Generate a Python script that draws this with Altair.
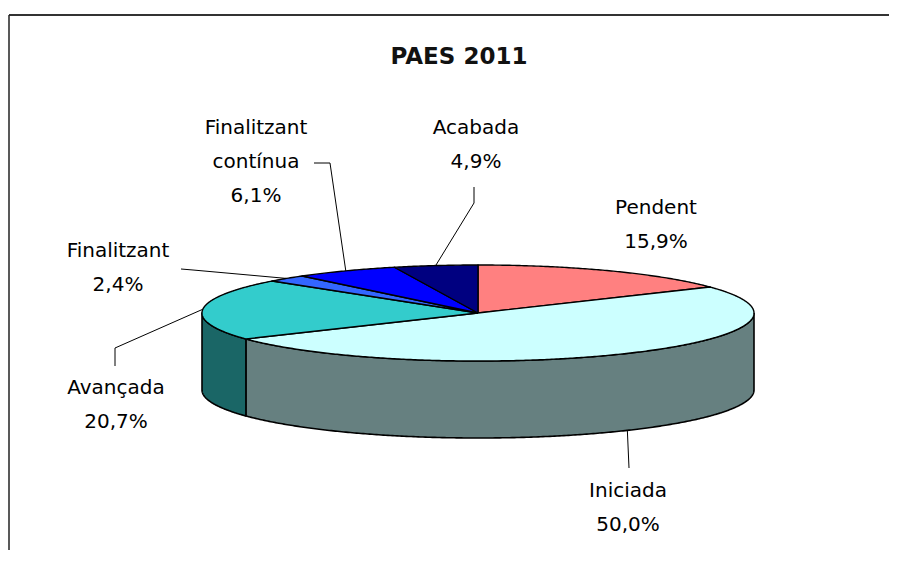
import altair as alt
import pandas as pd
import numpy as np

# ---------------- data ----------------
title_text = "PAES 2011"
categories = ["Pendent", "Iniciada", "Avançada", "Finalitzant", "Finalitzant contínua", "Acabada"]
percentages = [15.9, 50.0, 20.7, 2.4, 6.1, 4.9]
label_names = [["Pendent"], ["Iniciada"], ["Avançada"], ["Finalitzant"], ["Finalitzant", "contínua"], ["Acabada"]]
top_colors = ["#FF8080", "#CCFFFF", "#33CCCC", "#3366FF", "#0000FF", "#000080"]
side_colors = ["#804040", "#668080", "#1A6666", "#1A3380", "#000080", "#000040"]

# ---------------- layout ----------------
W, H = 881, 542
X0, Y0 = 8, 8            # page margin: data coords are page pixels
CX, CY = 478, 313        # ellipse centre
RX, RY = 276, 48         # ellipse radii
DEPTH = 77               # pie thickness
FONT = "DejaVu Sans"
LINE_H = 34
# label block position (centre x, first-line y) and leader elbow points
label_layout = {
    "Pendent": dict(pos=(656, 208), leader=None),
    "Iniciada": dict(pos=(628, 491), leader=[(629, 468)]),
    "Avançada": dict(pos=(116, 388), leader=[(115, 348), (115, 366)]),
    "Finalitzant": dict(pos=(118, 251), leader=[(193, 270), (181, 269)]),
    "Finalitzant contínua": dict(pos=(256, 128), leader=[(330, 163), (314, 163)]),
    "Acabada": dict(pos=(476, 128), leader=[(474, 203), (474, 187)]),
}


def ell(theta_deg, dy=0.0):
    t = np.radians(theta_deg)
    return CX + RX * np.sin(t), CY - RY * np.cos(t) + dy


ends = np.cumsum(percentages) / 100 * 360
starts = ends - np.array(percentages) / 100 * 360

top_rows, side_rows, leader_rows, text_rows = [], [], [], []
for i, cat in enumerate(categories):
    a0, a1 = starts[i], ends[i]
    n = max(int((a1 - a0) * 2), 2)
    pts = [(CX, CY)] + [ell(a) for a in np.linspace(a0, a1, n)] + [(CX, CY)]
    for k, (x, y) in enumerate(pts):
        top_rows.append(dict(id=cat, x=x, y=y, o=k, fill=top_colors[i]))
    s0, s1 = max(a0, 90), min(a1, 270)
    if s1 > s0:
        m = max(int((s1 - s0) * 2), 2)
        arc = np.linspace(s0, s1, m)
        spts = [ell(a) for a in arc] + [ell(a, DEPTH) for a in arc[::-1]]
        spts.append(spts[0])
        for k, (x, y) in enumerate(spts):
            side_rows.append(dict(id=cat, x=x, y=y, o=k, fill=side_colors[i]))
    # labels
    mid = (a0 + a1) / 2
    lay = label_layout[cat]
    lines = label_names[i] + [f"{percentages[i]:.1f}".replace(".", ",") + "%"]
    lx, ly = lay["pos"]
    for j, t in enumerate(lines):
        text_rows.append(dict(x=lx, y=ly + j * LINE_H, text=t))
    if lay["leader"]:
        front = 90 < mid < 270
        anchor = ell(mid, DEPTH if front else 0)
        for k, (x, y) in enumerate([anchor] + lay["leader"]):
            leader_rows.append(dict(id=cat, x=x, y=y, o=k))

xs = alt.Scale(domain=[X0, X0 + W])
ys = alt.Scale(domain=[Y0, Y0 + H], reverse=True)


def poly_layer(rows, sw):
    return alt.Chart(pd.DataFrame(rows)).mark_line(
        filled=True, stroke="black", strokeWidth=sw, strokeJoin="round"
    ).encode(
        x=alt.X("x:Q", scale=xs, axis=None),
        y=alt.Y("y:Q", scale=ys, axis=None),
        order="o:Q",
        detail="id:N",
        fill=alt.Fill("fill:N", scale=None),
    )


sides = poly_layer(side_rows, 1.6)
tops = poly_layer(top_rows, 1.4)

leaders = alt.Chart(pd.DataFrame(leader_rows)).mark_line(color="black", strokeWidth=1).encode(
    x=alt.X("x:Q", scale=xs, axis=None),
    y=alt.Y("y:Q", scale=ys, axis=None),
    order="o:Q",
    detail="id:N",
)

labels = alt.Chart(pd.DataFrame(text_rows)).mark_text(
    font=FONT, fontSize=20, color="black", align="center", baseline="middle"
).encode(
    x=alt.X("x:Q", scale=xs, axis=None),
    y=alt.Y("y:Q", scale=ys, axis=None),
    text="text:N",
)

title = alt.Chart(pd.DataFrame([dict(x=459, y=57, text=title_text)])).mark_text(
    font=FONT, fontSize=23, fontWeight="bold", color="#111111", align="center", baseline="middle"
).encode(
    x=alt.X("x:Q", scale=xs, axis=None),
    y=alt.Y("y:Q", scale=ys, axis=None),
    text="text:N",
)

frame_top = alt.Chart().mark_rule(color="#333333", strokeWidth=2).encode(
    x=alt.value(1), x2=alt.value(W), y=alt.value(7)
)
frame_left = alt.Chart().mark_rule(color="#222222", strokeWidth=1.5).encode(
    x=alt.value(1), y=alt.value(7), y2=alt.value(H)
)

chart = alt.layer(frame_top, frame_left, sides, tops, leaders, labels, title).properties(
    width=W, height=H, padding=0, autosize=alt.AutoSizeParams(type="none")
).configure_view(stroke=None)

chart.save("out.html", embed_options={"renderer": "svg", "actions": False})
